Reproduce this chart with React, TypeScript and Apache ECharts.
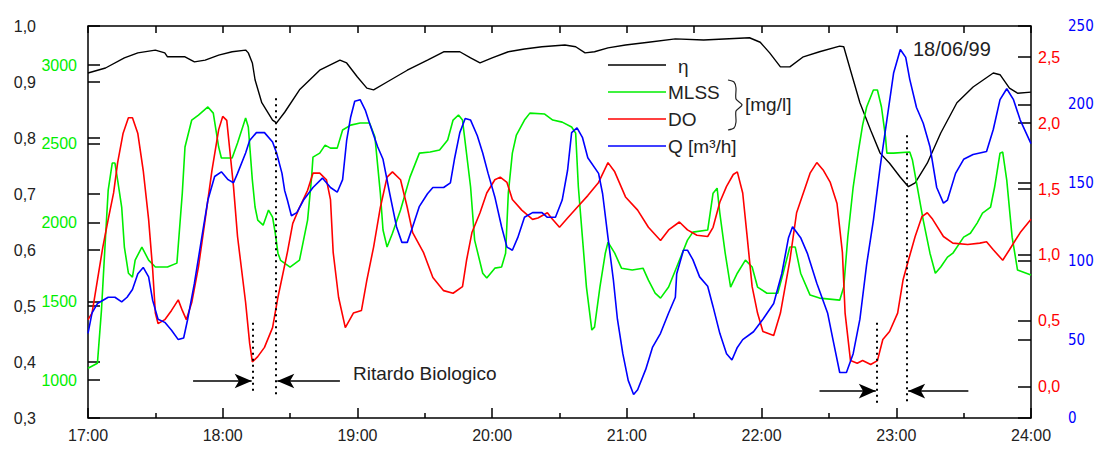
import React, { useEffect, useRef } from "react";
import * as echarts from "echarts";

// ---- axis ticks / labels ----
const etaTicks = [0.3, 0.4, 0.5, 0.6, 0.7, 0.8, 0.9, 1.0];
const mlssTicks = [1000, 1500, 2000, 2500, 3000];
const doTicks = [0, 0.5, 1.0, 1.5, 2.0, 2.5];
const qTicks = [0, 50, 100, 150, 200, 250];
const hourTicks = [17, 18, 19, 20, 21, 22, 23, 24];
const halfHourTicks = [17.5, 18.5, 19.5, 20.5, 21.5, 22.5, 23.5];
const legendNames = ["η", "MLSS", "DO", "Q [m³/h]"];
const unitLabel = "[mg/l]";
const dateLabel = "18/06/99";
const delayLabel = "Ritardo Biologico";

// ---- series: [hour of day, value] ----
const etaData: [number, number][] = [
  [17.0, 0.916], [17.13, 0.925], [17.27, 0.943], [17.37, 0.952], [17.5, 0.957], [17.57, 0.952],
  [17.59, 0.945], [17.72, 0.945], [17.79, 0.936], [17.87, 0.939], [17.97, 0.948], [18.07, 0.954],
  [18.17, 0.957], [18.19, 0.952], [18.22, 0.934], [18.24, 0.904], [18.29, 0.863], [18.37, 0.832],
  [18.4, 0.827], [18.46, 0.846], [18.57, 0.886], [18.72, 0.921], [18.87, 0.939], [18.92, 0.934],
  [19.0, 0.909], [19.07, 0.889], [19.12, 0.886], [19.22, 0.9], [19.37, 0.921], [19.52, 0.939],
  [19.64, 0.954], [19.76, 0.954], [19.84, 0.943], [19.91, 0.934], [20.0, 0.943], [20.12, 0.954],
  [20.24, 0.959], [20.37, 0.963], [20.54, 0.966], [20.62, 0.963], [20.69, 0.952], [20.76, 0.954],
  [20.86, 0.961], [20.99, 0.966], [21.16, 0.971], [21.36, 0.977], [21.57, 0.975], [21.91, 0.979],
  [21.99, 0.971], [22.06, 0.952], [22.14, 0.927], [22.21, 0.927], [22.31, 0.945], [22.43, 0.954],
  [22.58, 0.964], [22.61, 0.963], [22.66, 0.921], [22.73, 0.863], [22.81, 0.814], [22.88, 0.773],
  [22.95, 0.755], [23.03, 0.73], [23.09, 0.713], [23.14, 0.72], [23.23, 0.755], [23.33, 0.809],
  [23.45, 0.863], [23.57, 0.891], [23.72, 0.916], [23.77, 0.913], [23.84, 0.889], [23.9, 0.88],
  [24.0, 0.882],
];

const mlssData: [number, number][] = [
  [17.0, 1076], [17.07, 1108], [17.1, 1445], [17.13, 1908], [17.15, 2207], [17.18, 2378],
  [17.2, 2378], [17.22, 2270], [17.25, 2099], [17.27, 1845], [17.3, 1679], [17.33, 1654],
  [17.35, 1762], [17.4, 1845], [17.45, 1762], [17.5, 1718], [17.59, 1718], [17.66, 1743],
  [17.7, 2187], [17.72, 2480], [17.77, 2651], [17.82, 2683], [17.89, 2734], [17.93, 2695],
  [17.97, 2480], [17.99, 2410], [18.07, 2410], [18.11, 2505], [18.17, 2664], [18.19, 2607],
  [18.22, 2270], [18.24, 2099], [18.26, 2016], [18.3, 1984], [18.34, 2080], [18.37, 2035],
  [18.39, 1933], [18.41, 1806], [18.43, 1760], [18.5, 1718], [18.57, 1762], [18.63, 2016],
  [18.66, 2289], [18.67, 2416], [18.72, 2441], [18.76, 2492], [18.8, 2473], [18.85, 2473],
  [18.89, 2588], [18.95, 2619], [19.02, 2632], [19.09, 2632], [19.13, 2543], [19.17, 2187],
  [19.19, 1953], [19.22, 1845], [19.26, 1933], [19.32, 2080], [19.39, 2289], [19.46, 2441],
  [19.54, 2448], [19.61, 2461], [19.67, 2524], [19.71, 2651], [19.75, 2683], [19.78, 2651],
  [19.84, 2226], [19.87, 1889], [19.93, 1679], [19.96, 1648], [20.02, 1711], [20.07, 1718],
  [20.1, 1806], [20.12, 2187], [20.15, 2441], [20.18, 2556], [20.24, 2651], [20.28, 2695],
  [20.39, 2689], [20.45, 2651], [20.52, 2638], [20.59, 2607], [20.62, 2568], [20.64, 2226],
  [20.67, 1908], [20.7, 1591], [20.74, 1318], [20.76, 1337], [20.8, 1591], [20.84, 1806],
  [20.86, 1876], [20.91, 1806], [20.96, 1711], [21.04, 1699], [21.12, 1711], [21.16, 1635],
  [21.21, 1552], [21.25, 1521], [21.31, 1591], [21.37, 1718], [21.45, 1889], [21.49, 1940],
  [21.6, 1953], [21.64, 2187], [21.67, 2219], [21.69, 2060], [21.73, 1806], [21.77, 1591],
  [21.82, 1679], [21.88, 1762], [21.93, 1718], [21.97, 1591], [22.04, 1552], [22.12, 1552],
  [22.16, 1679], [22.21, 1845], [22.25, 1845], [22.29, 1679], [22.36, 1540], [22.43, 1521],
  [22.58, 1508], [22.61, 1591], [22.64, 1908], [22.68, 2226], [22.72, 2461], [22.75, 2619],
  [22.78, 2734], [22.83, 2842], [22.86, 2842], [22.89, 2734], [22.92, 2543], [22.93, 2441],
  [22.98, 2441], [23.1, 2448], [23.12, 2397], [23.16, 2207], [23.2, 2016], [23.25, 1806],
  [23.29, 1679], [23.33, 1718], [23.38, 1781], [23.42, 1806], [23.5, 1908], [23.55, 1933],
  [23.6, 1997], [23.64, 2060], [23.7, 2099], [23.73, 2226], [23.77, 2441], [23.79, 2448],
  [23.82, 2270], [23.86, 1908], [23.9, 1699], [24.0, 1667],
];

const doData: [number, number][] = [
  [17.0, 0.51], [17.03, 0.56], [17.07, 0.81], [17.11, 1.06], [17.15, 1.27], [17.19, 1.47],
  [17.22, 1.7], [17.26, 1.92], [17.3, 2.04], [17.33, 2.04], [17.37, 1.92], [17.41, 1.64],
  [17.45, 1.27], [17.48, 0.89], [17.5, 0.56], [17.52, 0.48], [17.57, 0.51], [17.62, 0.58],
  [17.67, 0.66], [17.7, 0.58], [17.73, 0.51], [17.77, 0.64], [17.82, 0.91], [17.87, 1.27],
  [17.92, 1.64], [17.97, 1.95], [18.0, 2.05], [18.03, 2.02], [18.05, 1.82], [18.08, 1.52],
  [18.11, 1.14], [18.17, 0.64], [18.2, 0.33], [18.22, 0.19], [18.26, 0.23], [18.31, 0.3],
  [18.37, 0.45], [18.41, 0.68], [18.48, 1.02], [18.52, 1.24], [18.57, 1.36], [18.63, 1.49],
  [18.67, 1.62], [18.72, 1.62], [18.77, 1.57], [18.8, 1.42], [18.82, 1.02], [18.86, 0.68],
  [18.91, 0.45], [18.97, 0.56], [19.03, 0.58], [19.07, 0.81], [19.12, 1.06], [19.17, 1.36],
  [19.22, 1.59], [19.26, 1.63], [19.32, 1.57], [19.37, 1.36], [19.41, 1.17], [19.49, 1.02],
  [19.56, 0.83], [19.64, 0.73], [19.71, 0.71], [19.78, 0.76], [19.81, 0.96], [19.85, 1.17],
  [19.91, 1.32], [19.96, 1.47], [20.02, 1.57], [20.06, 1.59], [20.11, 1.55], [20.15, 1.42],
  [20.22, 1.34], [20.3, 1.27], [20.34, 1.28], [20.41, 1.32], [20.44, 1.28], [20.5, 1.21],
  [20.56, 1.28], [20.63, 1.36], [20.71, 1.45], [20.79, 1.55], [20.86, 1.7], [20.91, 1.63],
  [20.99, 1.44], [21.08, 1.34], [21.16, 1.21], [21.25, 1.11], [21.31, 1.19], [21.39, 1.25],
  [21.45, 1.19], [21.52, 1.15], [21.6, 1.14], [21.64, 1.21], [21.69, 1.4], [21.74, 1.52],
  [21.79, 1.61], [21.82, 1.63], [21.86, 1.47], [21.89, 1.17], [21.93, 0.76], [21.97, 0.56],
  [22.01, 0.42], [22.09, 0.39], [22.14, 0.56], [22.21, 0.96], [22.26, 1.32], [22.31, 1.47],
  [22.36, 1.62], [22.41, 1.7], [22.46, 1.64], [22.51, 1.55], [22.56, 1.39], [22.6, 1.02],
  [22.62, 0.56], [22.66, 0.2], [22.71, 0.18], [22.75, 0.2], [22.81, 0.17], [22.86, 0.2],
  [22.9, 0.36], [22.95, 0.42], [23.01, 0.56], [23.05, 0.81], [23.09, 0.96], [23.14, 1.14],
  [23.19, 1.29], [23.23, 1.32], [23.27, 1.27], [23.35, 1.14], [23.42, 1.09], [23.53, 1.08],
  [23.62, 1.09], [23.67, 1.1], [23.72, 1.04], [23.79, 0.96], [23.84, 1.04], [23.92, 1.17],
  [24.0, 1.27],
];

const qData: [number, number][] = [
  [17.0, 54], [17.03, 67], [17.07, 73], [17.15, 77], [17.2, 77], [17.25, 74], [17.29, 77],
  [17.33, 82], [17.37, 92], [17.41, 96], [17.45, 90], [17.48, 75], [17.52, 63], [17.57, 61],
  [17.62, 56], [17.67, 50], [17.71, 51], [17.74, 63], [17.79, 86], [17.85, 118], [17.89, 139],
  [17.94, 154], [17.99, 157], [18.04, 152], [18.08, 150], [18.11, 156], [18.17, 169], [18.2, 177],
  [18.25, 182], [18.31, 182], [18.37, 176], [18.4, 169], [18.44, 156], [18.46, 145], [18.48, 139],
  [18.51, 129], [18.55, 131], [18.6, 139], [18.67, 147], [18.74, 153], [18.8, 147], [18.85, 144],
  [18.89, 152], [18.92, 177], [18.95, 192], [18.98, 202], [19.02, 203], [19.06, 196], [19.09, 188],
  [19.15, 173], [19.19, 165], [19.24, 143], [19.29, 122], [19.33, 112], [19.37, 112], [19.41, 122],
  [19.46, 135], [19.52, 143], [19.56, 147], [19.64, 147], [19.69, 150], [19.72, 165], [19.76, 182],
  [19.8, 191], [19.84, 190], [19.89, 180], [19.93, 169], [19.97, 156], [20.02, 141], [20.07, 122],
  [20.11, 109], [20.15, 107], [20.19, 115], [20.24, 128], [20.3, 131], [20.37, 131], [20.41, 128],
  [20.47, 128], [20.52, 139], [20.56, 158], [20.59, 182], [20.63, 185], [20.67, 179], [20.71, 166],
  [20.79, 156], [20.82, 143], [20.86, 115], [20.9, 88], [20.93, 63], [20.97, 41], [21.01, 24],
  [21.05, 15], [21.08, 18], [21.14, 31], [21.19, 45], [21.25, 54], [21.31, 67], [21.36, 77],
  [21.37, 92], [21.42, 107], [21.45, 107], [21.49, 101], [21.54, 90], [21.6, 84], [21.64, 71],
  [21.69, 54], [21.74, 41], [21.78, 37], [21.82, 45], [21.86, 50], [21.94, 55], [22.01, 63],
  [22.09, 73], [22.15, 92], [22.2, 115], [22.23, 122], [22.29, 115], [22.34, 105], [22.41, 86],
  [22.49, 67], [22.53, 50], [22.58, 29], [22.63, 29], [22.68, 41], [22.73, 63], [22.78, 98],
  [22.83, 126], [22.88, 160], [22.93, 190], [22.98, 220], [23.03, 235], [23.07, 230], [23.1, 216],
  [23.15, 198], [23.2, 188], [23.25, 173], [23.3, 147], [23.35, 137], [23.38, 139], [23.44, 156],
  [23.5, 165], [23.57, 168], [23.67, 170], [23.72, 184], [23.77, 203], [23.82, 210], [23.87, 203],
  [23.92, 190], [24.0, 175],
];

// biological delay markers (hour, eta-axis extent)
const delayDotted = [
  { t: 18.225, from: 0.47, to: 0.342 },
  { t: 18.395, from: 0.871, to: 0.342 },
  { t: 22.855, from: 0.47, to: 0.327 },
  { t: 23.08, from: 0.805, to: 0.327 },
];
const delayArrows = [
  { from: 17.78, to: 18.215, level: 0.366 },
  { from: 18.87, to: 18.405, level: 0.366 },
  { from: 22.43, to: 22.848, level: 0.348 },
  { from: 23.535, to: 23.088, level: 0.348 },
];

const FONT = '"Liberation Sans", Arial, Helvetica, sans-serif';
const NARROW = '"Liberation Sans Narrow", "Arial Narrow", "DejaVu Sans Condensed", "Liberation Sans", sans-serif';
const GREEN = "#00ee00";
const RED = "#ff0000";
const BLUE = "#0000ff";
const BLACK = "#000000";
const TXT = "#222222";

const comma = (v: number) => v.toFixed(1).replace(".", ",");

export default function App() {
  const ref = useRef<HTMLDivElement>(null);

  useEffect(() => {
    if (!ref.current) return;
    const chart = echarts.init(ref.current, undefined, { renderer: "svg" });

    // eta axis: 0.3..1.0 over 392 px -> px to eta units
    const ETA_MIN = 0.3;
    const ETA_MAX = 1.0;
    const pxEta = (ETA_MAX - ETA_MIN) / 392;

    const tickLine = { type: "solid", width: 1.5, color: BLACK };
    const markLineData: any[] = [];
    // inner ticks of the time axis (bottom: long at hours, short at half hours; top: all equal)
    hourTicks.forEach((h) => {
      markLineData.push([{ coord: [h, ETA_MIN], lineStyle: tickLine }, { coord: [h, ETA_MIN + 10 * pxEta] }]);
      markLineData.push([{ coord: [h, ETA_MAX], lineStyle: tickLine }, { coord: [h, ETA_MAX - 7 * pxEta] }]);
    });
    halfHourTicks.forEach((h) => {
      markLineData.push([{ coord: [h, ETA_MIN], lineStyle: tickLine }, { coord: [h, ETA_MIN + 5 * pxEta] }]);
      markLineData.push([{ coord: [h, ETA_MAX], lineStyle: tickLine }, { coord: [h, ETA_MAX - 7 * pxEta] }]);
    });
    delayDotted.forEach((d) => {
      markLineData.push([
        { coord: [d.t, d.from], lineStyle: { type: [2, 4], width: 2, color: BLACK } },
        { coord: [d.t, d.to] },
      ]);
    });
    delayArrows.forEach((a) => {
      markLineData.push([
        { coord: [a.from, a.level], symbol: "none", lineStyle: { type: "solid", width: 1.5, color: BLACK } },
        { coord: [a.to, a.level], symbol: "arrow", symbolSize: [11, 17] },
      ]);
    });

    const lineSeries = (name: string, data: [number, number][], color: string, yAxisIndex: number, width: number, extra: any = {}) => ({
      name,
      type: "line",
      data,
      xAxisIndex: 0,
      yAxisIndex,
      showSymbol: false,
      symbol: "none",
      smooth: false,
      lineStyle: { color, width },
      itemStyle: { color },
      emphasis: { disabled: true },
      silent: true,
      ...extra,
    });

    const lx = 608;
    const tx = 668;
    const rows = [65, 92, 119, 146];
    const colors = [BLACK, GREEN, RED, BLUE];

    const legendGraphics: any[] = [];
    rows.forEach((y, i) => {
      legendGraphics.push({
        type: "line",
        shape: { x1: lx, y1: y, x2: lx + 58, y2: y },
        style: { stroke: colors[i], lineWidth: 1.6 },
      });
      legendGraphics.push({
        type: "text",
        x: i === 0 ? tx + 10 : tx,
        y: i === 0 ? y + 1 : y,
        style: { text: legendNames[i], font: `19px ${FONT}`, fill: TXT, verticalAlign: "middle", align: "left" },
      });
    });
    legendGraphics.push({
      type: "polyline",
      shape: {
        points: [[728, 80], [734, 82], [736, 88], [736, 99], [742, 105], [736, 111], [736, 122], [734, 128], [728, 130]],
        smooth: 0.25,
      },
      style: { stroke: TXT, lineWidth: 1.2, fill: "none" },
    });
    legendGraphics.push({
      type: "text",
      x: 745,
      y: 104,
      style: { text: unitLabel, font: `19px ${FONT}`, fill: TXT, verticalAlign: "middle" },
    });
    legendGraphics.push({
      type: "text",
      x: 913,
      y: 49,
      style: { text: dateLabel, font: `20px ${FONT}`, fill: TXT, verticalAlign: "middle" },
    });
    legendGraphics.push({
      type: "text",
      x: 353,
      y: 373,
      style: { text: delayLabel, font: `19px ${FONT}`, fill: TXT, verticalAlign: "middle" },
    });

    chart.setOption({
      animation: false,
      backgroundColor: "#ffffff",
      grid: {
        left: 88,
        right: 68,
        top: 26,
        bottom: 32,
        show: true,
        borderColor: BLACK,
        borderWidth: 1.5,
        backgroundColor: "transparent",
      },
      xAxis: [
        {
          type: "value",
          min: 17,
          max: 24,
          position: "bottom",
          axisLine: { show: false, onZero: false },
          axisTick: { show: false },
          splitLine: { show: false },
          axisLabel: {
            customValues: hourTicks,
            formatter: (v: number) => `${v}:00`,
            color: TXT,
            fontSize: 16,
            fontFamily: FONT,
            margin: 9,
          },
        },
      ],
      yAxis: [
        {
          type: "value",
          min: ETA_MIN,
          max: ETA_MAX,
          position: "left",
          axisLine: { show: false, onZero: false },
          splitLine: { show: false },
          axisTick: { show: true, inside: true, length: 12, lineStyle: { color: BLACK, width: 1.5 }, customValues: etaTicks },
          axisLabel: {
            customValues: etaTicks,
            formatter: comma,
            color: TXT,
            fontSize: 16,
            fontFamily: FONT,
            margin: 52,
          },
        },
        {
          type: "value",
          min: 760,
          max: 3248,
          position: "left",
          axisLine: { show: false, onZero: false },
          splitLine: { show: false },
          axisTick: { show: true, inside: true, length: 12, lineStyle: { color: BLACK, width: 1.5 }, customValues: mlssTicks },
          axisLabel: {
            customValues: mlssTicks,
            formatter: (v: number) => String(v),
            color: GREEN,
            fontSize: 16,
            fontFamily: FONT,
            margin: 11,
          },
        },
        {
          type: "value",
          min: -0.235,
          max: 2.735,
          position: "right",
          axisLine: { show: false, onZero: false },
          splitLine: { show: false },
          axisTick: { show: true, inside: true, length: 13, lineStyle: { color: BLACK, width: 1.5 }, customValues: doTicks },
          axisLabel: {
            customValues: doTicks,
            formatter: comma,
            color: RED,
            fontSize: 16,
            fontFamily: FONT,
            margin: 7,
          },
        },
        {
          type: "value",
          min: 0,
          max: 250,
          position: "right",
          axisLine: { show: false, onZero: false },
          splitLine: { show: false },
          axisTick: { show: true, inside: true, length: 13, lineStyle: { color: BLACK, width: 1.5 }, customValues: qTicks },
          axisLabel: {
            customValues: qTicks,
            formatter: (v: number) => String(v),
            color: BLUE,
            fontSize: 15,
            fontFamily: NARROW,
            margin: 37,
          },
        },
      ],
      series: [
        lineSeries("η", etaData, BLACK, 0, 1.4, {
          markLine: {
            silent: true,
            animation: false,
            symbol: "none",
            label: { show: false },
            emphasis: { disabled: true },
            data: markLineData,
          },
        }),
        lineSeries("MLSS", mlssData, GREEN, 1, 1.6),
        lineSeries("DO", doData, RED, 2, 1.6),
        lineSeries("Q", qData, BLUE, 3, 1.6),
      ],
      graphic: legendGraphics,
    });

    return () => chart.dispose();
  }, []);

  return (
    <div
      ref={ref}
      style={{ position: "fixed", left: 0, top: 0, width: 1099, height: 450, background: "#fff" }}
    />
  );
}
